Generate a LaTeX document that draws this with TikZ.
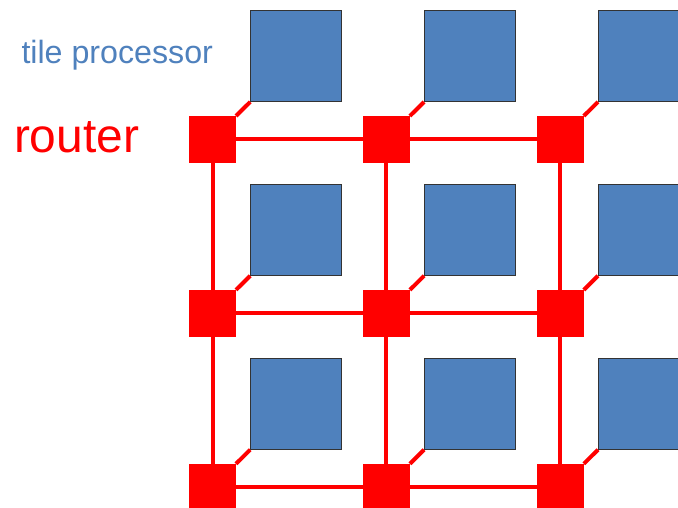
\documentclass[tikz,border=0pt]{standalone}
\usepackage{fontspec}
\setmainfont{Liberation Sans}
\definecolor{tileblue}{RGB}{79,129,189}
\definecolor{routerred}{RGB}{255,0,0}
\begin{document}
\begin{tikzpicture}[x=1pt,y=-1pt,
  routerbox/.style={fill=routerred,draw=none,minimum size=47pt,inner sep=0pt,outer sep=0pt},
  tilebox/.style={fill=tileblue,draw=black!80,line width=0.8pt,minimum size=91pt,inner sep=0pt,outer sep=0pt},
  link/.style={draw=routerred,line width=4pt},
  lbl/.style={anchor=base west,inner sep=0pt,outer sep=0pt}]
\useasboundingbox (0,0) rectangle (678,508);
\begin{scope}
\clip (0,0) rectangle (678,508);
\foreach \i in {0,1,2}{
  \foreach \j in {0,1,2}{
    \node[tilebox] (t-\i-\j) at ({212.5+173.9*\i+37.7+45.5},{139.5+173.9*\j-128.6+45.5}) {};
  }
}
\foreach \i in {0,1,2}{
  \foreach \j in {0,1,2}{
    \coordinate (c-\i-\j) at ({212.5+173.9*\i},{139.5+173.9*\j});
  }
}
% links
\foreach \j in {0,1,2}{
  \draw[link] (c-0-\j) -- (c-1-\j);
  \draw[link] (c-1-\j) -- (c-2-\j);
}
\foreach \i in {0,1,2}{
  \draw[link] (c-\i-0) -- (c-\i-1);
  \draw[link] (c-\i-1) -- (c-\i-2);
}
\foreach \i in {0,1,2}{
  \foreach \j in {0,1,2}{
    \node[routerbox] (r-\i-\j) at (c-\i-\j) {};
    \draw[link] (r-\i-\j.north east) -- (t-\i-\j.south west);
  }
}
\end{scope}
\node[lbl,text=tileblue,font=\fontsize{32.2}{32.2}\selectfont] (tp) at (21.5,64) {tile processor};
\node[lbl,text=routerred,font=\fontsize{47.9}{47.9}\selectfont] (rt) at (14,153) {router};
\end{tikzpicture}
\end{document}
